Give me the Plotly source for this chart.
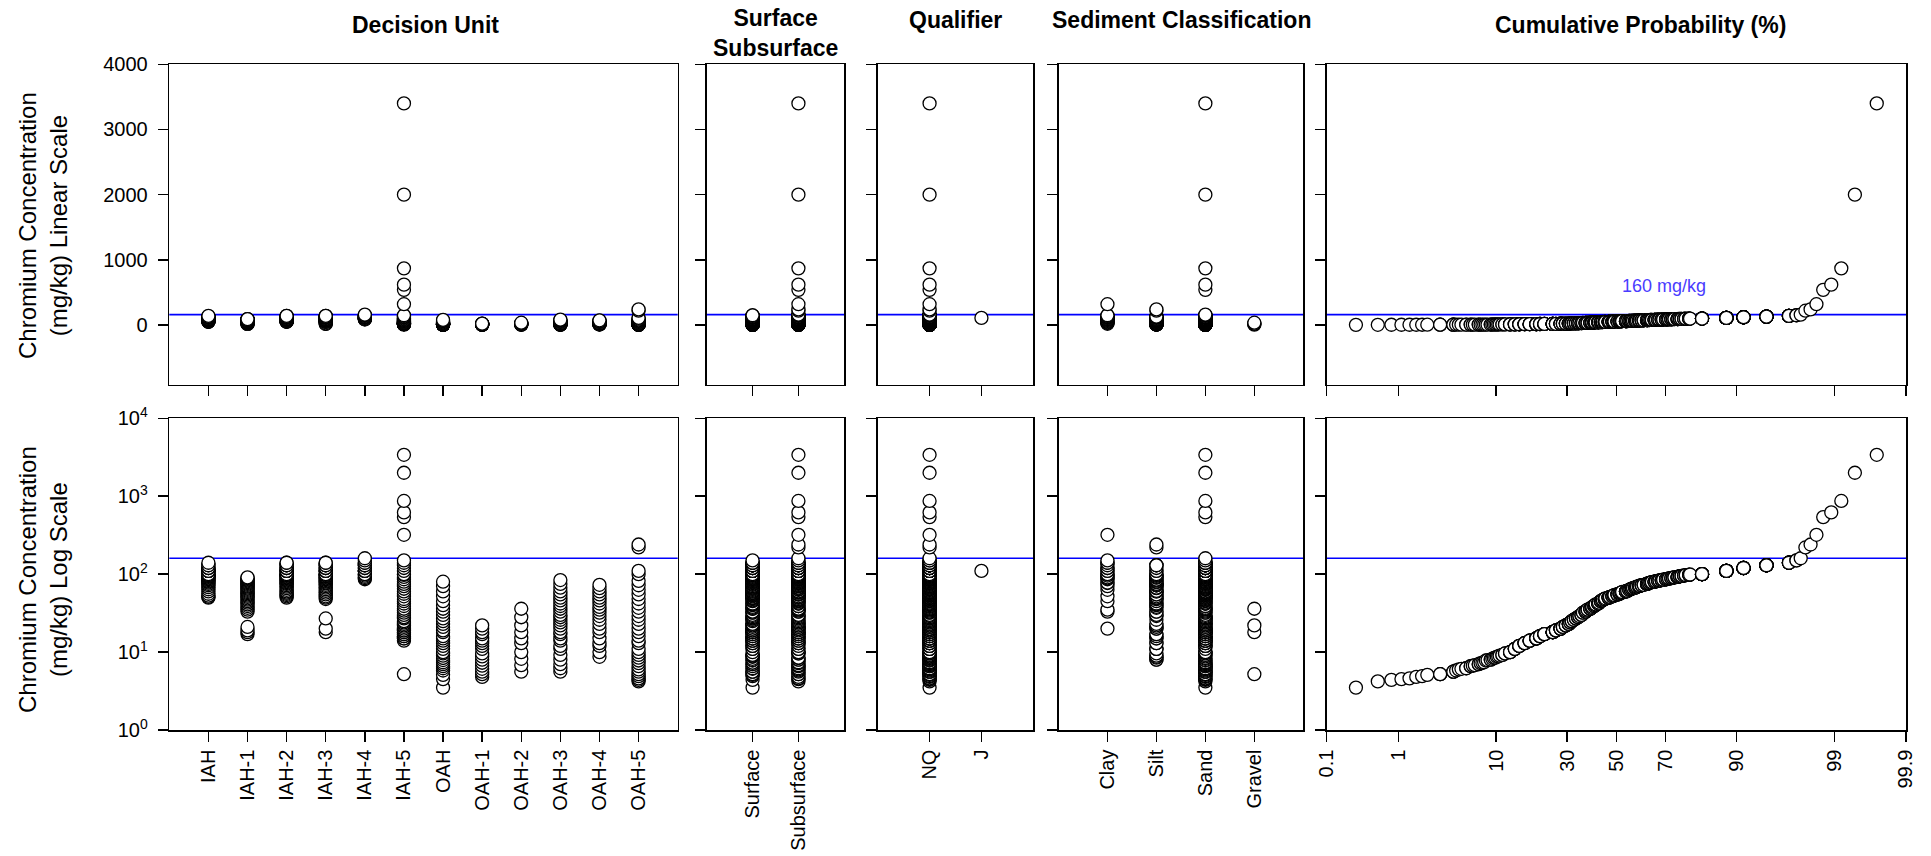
import plotly.graph_objects as go
from statistics import NormalDist
from collections import Counter

W, H = 1931, 856
FONT = "Arial, Liberation Sans, sans-serif"

DU_CATS = ["IAH", "IAH-1", "IAH-2", "IAH-3", "IAH-4", "IAH-5",
           "OAH", "OAH-1", "OAH-2", "OAH-3", "OAH-4", "OAH-5"]
DEPTH_CATS = ["Surface", "Subsurface"]
QUAL_CATS = ["NQ", "J"]
SED_CATS = ["Clay", "Silt", "Sand", "Gravel"]

# chromium concentration (mg/kg, 2 significant figures) by decision unit and depth
SURFACE = {
    "IAH": [140, 130, 120, 120, 110, 110, 110, 110, 100, 98, 95, 92, 88, 84, 80, 75, 68, 60, 53],
    "IAH-1": [89, 85, 81, 77, 73, 69, 65, 61, 57, 53, 49, 45, 41, 37, 33, 19, 17],
    "IAH-2": [140, 130, 130, 120, 110, 110, 110, 100, 99, 95, 91, 87, 83, 79, 75, 69, 63, 58, 54, 50],
    "IAH-3": [140, 130, 130, 120, 110, 110, 100, 98, 94, 90, 86, 82, 78, 73, 67, 61, 55, 50, 27, 20],
    "IAH-4": [140, 130, 120, 110, 110, 100, 92, 86],
    "IAH-5": [150, 130, 110, 98, 86, 75, 65, 56, 48, 42, 36, 32, 28, 25, 23, 21, 19, 18, 17, 16, 15, 14],
    "OAH": [70, 52, 40, 33, 27, 23, 19, 16, 14, 12, 10, 9, 7.9, 7, 6.2, 5.1, 3.5],
    "OAH-1": [22, 18, 15, 13, 11, 8.8, 7.3, 6.1, 5.2],
    "OAH-2": [28, 18, 13, 8.2, 5.6],
    "OAH-3": [75, 60, 50, 42, 36, 30, 26, 22, 18, 15, 12, 9.2, 7, 5.6],
    "OAH-4": [66, 55, 46, 38, 32, 26, 20, 15, 12, 8.7],
    "OAH-5": [110, 82, 63, 48, 37, 29, 23, 18, 14, 11, 9.2, 7.8, 6.6, 5.6, 4.9, 4.4],
}
SUBSURFACE = {
    "IAH": [130, 120, 110, 110, 110, 100, 100, 97, 96, 94, 90, 86, 82, 78, 72, 64, 56, 51, 50],
    "IAH-1": [91, 87, 83, 79, 75, 71, 67, 63, 59, 55, 51, 47, 43, 39, 35, 21, 18],
    "IAH-2": [140, 130, 120, 120, 110, 110, 100, 100, 98, 97, 93, 89, 85, 81, 77, 72, 66, 60, 56, 52],
    "IAH-3": [140, 130, 120, 120, 110, 110, 100, 100, 96, 92, 88, 84, 80, 76, 70, 64, 58, 52, 48, 18],
    "IAH-4": [160, 150, 140, 130, 130, 120, 110, 110, 100, 96, 89],
    "IAH-5": [3400, 2000, 870, 620, 540, 320, 140, 120, 100, 92, 80, 70, 60, 52, 45, 39, 34, 30,
              27, 24, 22, 20, 19, 18, 17, 16, 15, 5.2],
    "OAH": [80, 60, 45, 36, 30, 25, 21, 18, 15, 13, 11, 9.6, 8.4, 7.4, 6.6, 5.8, 4.5],
    "OAH-1": [20, 17, 14, 12, 9.6, 8, 6.7, 5.6, 4.8],
    "OAH-2": [36, 22, 15, 10, 6.8],
    "OAH-3": [84, 67, 55, 46, 39, 33, 28, 24, 20, 17, 14, 11, 8, 6.2],
    "OAH-4": [73, 60, 50, 42, 35, 29, 23, 18, 13, 10],
    "OAH-5": [240, 220, 100, 72, 55, 42, 33, 26, 20, 16, 13, 10, 8.5, 7.2, 6, 5.2, 4.6, 4.2],
}
# sediment classification of samples (anything not listed is Sand)
CLAY = {"IAH": [120, 110, 100, 96, 88, 78], "IAH-1": [45, 35, 33],
        "IAH-2": [120, 110, 91, 77, 63], "IAH-3": [100, 86, 70, 52, 20],
        "IAH-4": [140, 130], "IAH-5": [320, 150, 140]}
SILT = {"IAH": [130, 110, 98, 92, 84, 72, 60],
        "IAH-1": [91, 85, 79, 73, 67, 61, 55, 49, 41, 37],
        "IAH-2": [130, 120, 100, 95, 83, 72, 60, 52],
        "IAH-3": [130, 110, 98, 90, 80, 61, 48],
        "IAH-5": [75, 45, 30, 22, 17],
        "OAH": [40, 30, 21, 15, 11, 9],
        "OAH-1": [17, 13, 9.6, 8],
        "OAH-3": [75, 55, 42, 33, 26, 20, 15, 11, 8],
        "OAH-4": [66, 50, 38, 29, 20, 13, 8.7],
        "OAH-5": [240, 220, 72, 48, 33, 23, 16, 11, 8.5]}
GRAVEL = {"OAH-2": [36, 22, 18], "IAH-5": [5.2]}
J_QUALIFIED = {"IAH-4": [110]}

THRESHOLD = 160
PROB_TICKS = [0.1, 1, 10, 30, 50, 70, 90, 99, 99.9]
PROB_LABELS = ["0.1", "1", "10", "30", "50", "70", "90", "99", "99.9"]
LIN_TICKS = [0, 1000, 2000, 3000, 4000]
LOG_TICKS = [1, 10, 100, 1000, 10000]
LOG_LABELS = ["10<sup>0</sup>", "10<sup>1</sup>", "10<sup>2</sup>", "10<sup>3</sup>", "10<sup>4</sup>"]

# ---- build records ----
records = []
for du in DU_CATS:
    clay = Counter(CLAY.get(du, []))
    silt = Counter(SILT.get(du, []))
    grav = Counter(GRAVEL.get(du, []))
    jq = Counter(J_QUALIFIED.get(du, []))
    for depth, src in (("Surface", SURFACE), ("Subsurface", SUBSURFACE)):
        for v in src[du]:
            if clay[v] > 0:
                clay[v] -= 1
                sed = "Clay"
            elif silt[v] > 0:
                silt[v] -= 1
                sed = "Silt"
            elif grav[v] > 0:
                grav[v] -= 1
                sed = "Gravel"
            else:
                sed = "Sand"
            if jq[v] > 0:
                jq[v] -= 1
                q = "J"
            else:
                q = "NQ"
            records.append(dict(v=v, du=du, depth=depth, q=q, sed=sed))

records.sort(key=lambda r: r["v"])
n = len(records)
nd = NormalDist()
all_vals = [r["v"] for r in records]
for r in records:
    rank = sum(1 for x in all_vals if x <= r["v"])  # tied values share a plotting position
    r["z"] = nd.inv_cdf(rank / (n + 1))

# ---- layout geometry (pixels) ----
COLS_PX = [(169.3, 677.7), (706.7, 844.3), (877.7, 1033.3), (1058.5, 1303.3), (1326.7, 1906.0)]
ROWS_PX = [(64.3, 384.7), (418.3, 730.0)]


def xdom(c):
    a, b = COLS_PX[c]
    return [a / W, b / W]


def ydom(r):
    a, b = ROWS_PX[r]
    return [1 - b / H, 1 - a / H]


fig = go.Figure()
layout = dict(width=W, height=H, autosize=False, margin=dict(l=0, r=0, t=0, b=0, autoexpand=False),
              paper_bgcolor="white", plot_bgcolor="white", showlegend=False,
              font=dict(family=FONT, color="black"), hovermode=False)

base_axis = dict(showline=True, linecolor="black", linewidth=1.6, mirror=True,
                 ticks="outside", ticklen=10, tickwidth=1.5, tickcolor="black",
                 showgrid=False, zeroline=False, automargin=False,
                 tickfont=dict(family=FONT, size=20, color="black"))

keys = ["du", "depth", "q", "sed", "z"]
cats = [DU_CATS, DEPTH_CATS, QUAL_CATS, SED_CATS, None]
shapes = []
marker = dict(symbol="circle", size=13, color="white", line=dict(color="black", width=1.3))

for r in range(2):
    for c in range(5):
        k = r * 5 + c + 1
        xn = "xaxis" if k == 1 else f"xaxis{k}"
        yn = "yaxis" if k == 1 else f"yaxis{k}"
        xr = "x" if k == 1 else f"x{k}"
        yr = "y" if k == 1 else f"y{k}"
        xa = dict(base_axis, domain=xdom(c), anchor=yr)
        ya = dict(base_axis, domain=ydom(r), anchor=xr, ticklabelstandoff=6)
        if cats[c] is not None:
            xa.update(type="category", categoryorder="array", categoryarray=cats[c],
                      range=[-1, len(cats[c])], tickangle=-90)
        else:
            zt = [nd.inv_cdf(p / 100) for p in PROB_TICKS]
            xa.update(type="linear", range=[zt[0], zt[-1]], tickmode="array",
                      tickvals=zt, ticktext=PROB_LABELS, tickangle=-90)
        xa["showticklabels"] = (r == 1)
        if r == 0:
            ya.update(type="linear", range=[-915, 4000], tickmode="array",
                      tickvals=LIN_TICKS, ticktext=[str(t) for t in LIN_TICKS])
        else:
            ya.update(type="log", range=[0, 4], tickmode="array",
                      tickvals=LOG_TICKS, ticktext=LOG_LABELS)
        ya["showticklabels"] = (c == 0)
        layout[xn] = xa
        layout[yn] = ya

        fig.add_trace(go.Scatter(
            x=[rec[keys[c]] for rec in records],
            y=[rec["v"] for rec in records],
            mode="markers", marker=marker, xaxis=xr, yaxis=yr,
            hoverinfo="skip", cliponaxis=False))
        shapes.append(dict(type="line", xref=f"{xr} domain", x0=0, x1=1,
                           yref=yr, y0=THRESHOLD, y1=THRESHOLD, layer="below",
                           line=dict(color="#0000ff", width=1.6)))

annotations = []
titles = [("<b>Decision Unit</b>", 425, 25),
          ("<b>Surface<br>Subsurface</b>", 775.5, 33.5),
          ("<b>Qualifier</b>", 955.5, 20),
          ("<b>Sediment Classification</b>", 1181, 20),
          ("<b>Cumulative Probability (%)</b>", 1640, 25)]
for txt, px, py in titles:
    annotations.append(dict(text=txt, x=px / W, y=1 - py / H, xref="paper", yref="paper",
                            xanchor="center", yanchor="middle", showarrow=False,
                            font=dict(family=FONT, size=23, color="black")))

ytitles = [("Chromium Concentration<br>(mg/kg) Linear Scale", 226),
           ("Chromium Concentration<br>(mg/kg) Log Scale", 580)]
for txt, py in ytitles:
    annotations.append(dict(text=txt, x=43 / W, y=1 - py / H, xref="paper", yref="paper",
                            xanchor="center", yanchor="middle", showarrow=False,
                            textangle=-90, font=dict(family=FONT, size=24, color="black")))

annotations.append(dict(text=f"{THRESHOLD} mg/kg", xref="x5 domain", yref="y5",
                        x=0.582, y=602, xanchor="center", yanchor="middle", showarrow=False,
                        font=dict(family=FONT, size=18, color="#4a3cff")))

layout["shapes"] = shapes
layout["annotations"] = annotations
fig.update_layout(**layout)
fig.write_html("out.html", config={"displayModeBar": False, "staticPlot": True})
